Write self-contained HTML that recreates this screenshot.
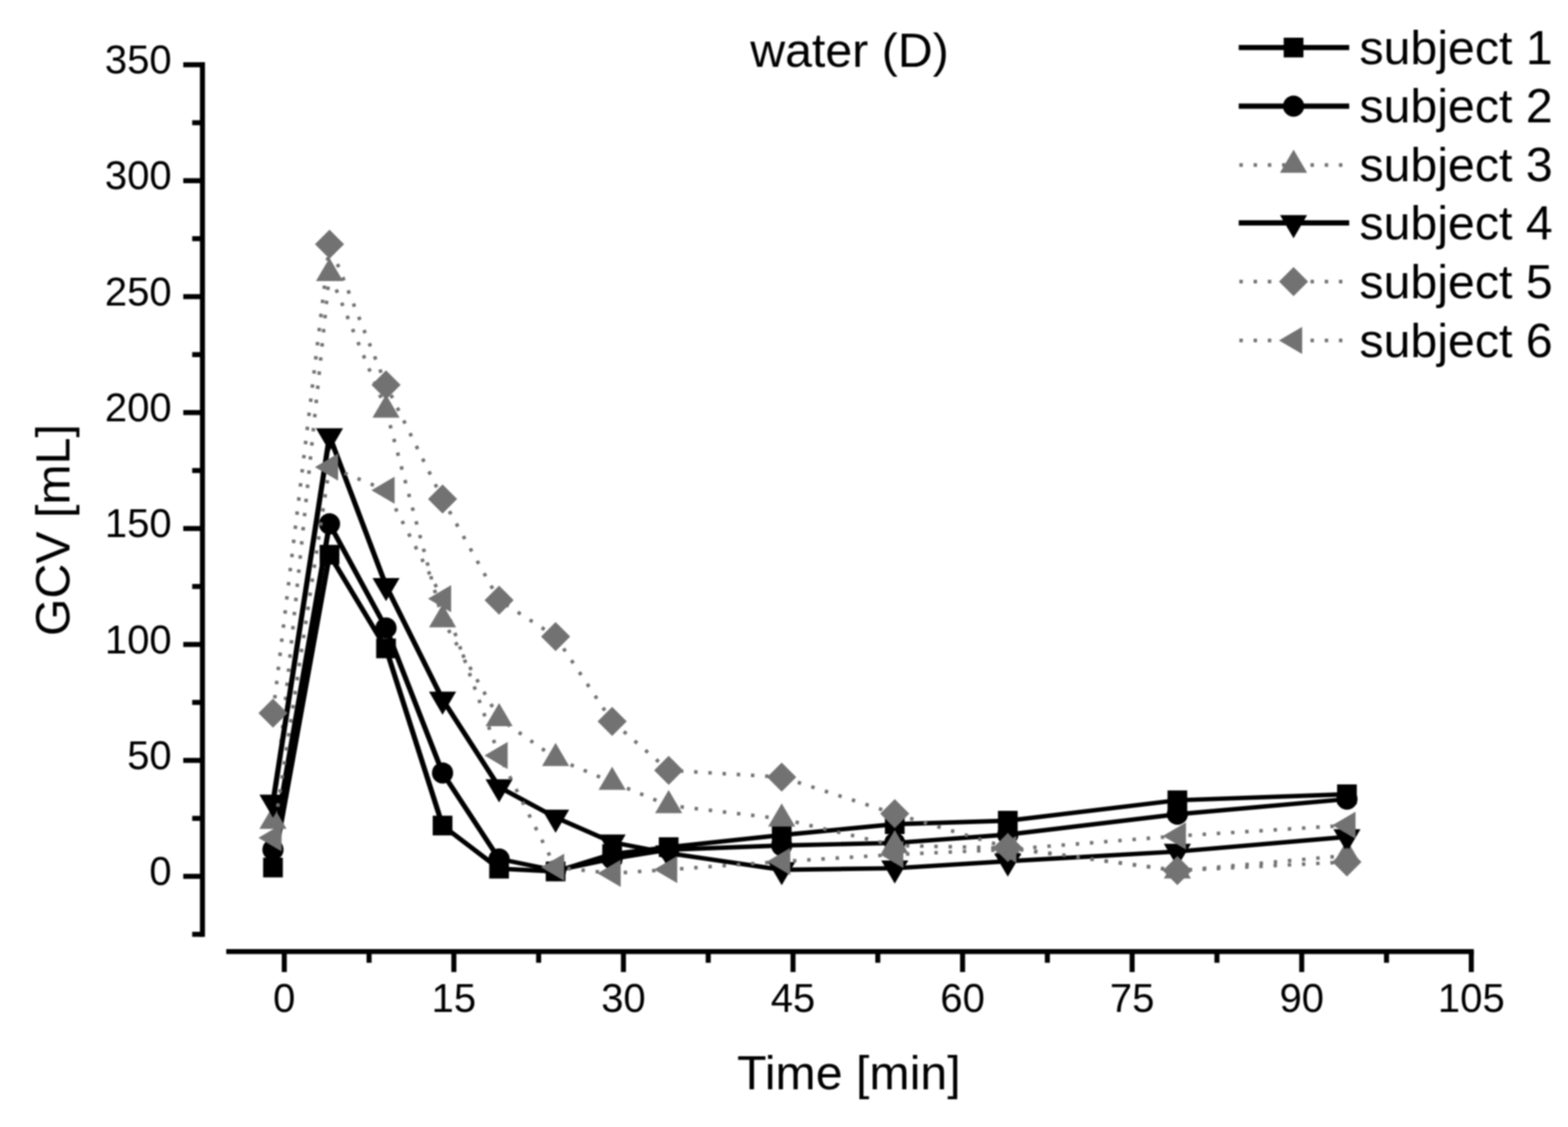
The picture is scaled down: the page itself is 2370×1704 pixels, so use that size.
<!DOCTYPE html>
<html lang="en"><head><meta charset="utf-8"><title>water (D) - GCV over time</title>
<style>html,body{margin:0;padding:0;background:#fff;}body{width:2370px;height:1704px;overflow:hidden;}svg{display:block;filter:blur(0.85px);}text{font-family:'Liberation Sans', sans-serif;fill:#000;}.tk{font-size:60.5px;}.bg{font-size:73px;}</style></head><body>
<svg width="2370" height="1704" viewBox="0 0 2370 1704" role="img" aria-label="GCV over time after water intake, six subjects">
<rect width="2370" height="1704" fill="#fff"/>
<g stroke="#000" stroke-width="7.6" fill="none" stroke-linecap="butt">
<line x1="306" y1="94.1" x2="306" y2="1416.45"/>
<line x1="290.5" y1="1412.65" x2="306" y2="1412.65"/>
<line x1="277" y1="1325" x2="306" y2="1325"/>
<line x1="290.5" y1="1237.35" x2="306" y2="1237.35"/>
<line x1="277" y1="1149.7" x2="306" y2="1149.7"/>
<line x1="290.5" y1="1062.05" x2="306" y2="1062.05"/>
<line x1="277" y1="974.4" x2="306" y2="974.4"/>
<line x1="290.5" y1="886.75" x2="306" y2="886.75"/>
<line x1="277" y1="799.1" x2="306" y2="799.1"/>
<line x1="290.5" y1="711.45" x2="306" y2="711.45"/>
<line x1="277" y1="623.8" x2="306" y2="623.8"/>
<line x1="290.5" y1="536.15" x2="306" y2="536.15"/>
<line x1="277" y1="448.5" x2="306" y2="448.5"/>
<line x1="290.5" y1="360.85" x2="306" y2="360.85"/>
<line x1="277" y1="273.2" x2="306" y2="273.2"/>
<line x1="290.5" y1="185.55" x2="306" y2="185.55"/>
<line x1="277" y1="97.9" x2="306" y2="97.9"/>
<line x1="341.96" y1="1438.7" x2="2227.64" y2="1438.7"/>
<line x1="429.7" y1="1438.7" x2="429.7" y2="1469.7"/>
<line x1="557.85" y1="1438.7" x2="557.85" y2="1455.7"/>
<line x1="686" y1="1438.7" x2="686" y2="1469.7"/>
<line x1="814.16" y1="1438.7" x2="814.16" y2="1455.7"/>
<line x1="942.31" y1="1438.7" x2="942.31" y2="1469.7"/>
<line x1="1070.46" y1="1438.7" x2="1070.46" y2="1455.7"/>
<line x1="1198.62" y1="1438.7" x2="1198.62" y2="1469.7"/>
<line x1="1326.77" y1="1438.7" x2="1326.77" y2="1455.7"/>
<line x1="1454.92" y1="1438.7" x2="1454.92" y2="1469.7"/>
<line x1="1583.07" y1="1438.7" x2="1583.07" y2="1455.7"/>
<line x1="1711.23" y1="1438.7" x2="1711.23" y2="1469.7"/>
<line x1="1839.38" y1="1438.7" x2="1839.38" y2="1455.7"/>
<line x1="1967.53" y1="1438.7" x2="1967.53" y2="1469.7"/>
<line x1="2095.68" y1="1438.7" x2="2095.68" y2="1455.7"/>
<line x1="2223.84" y1="1438.7" x2="2223.84" y2="1469.7"/>
</g>
<g class="tk" text-anchor="end">
<text x="259.5" y="1338.2">0</text>
<text x="259.5" y="1162.9">50</text>
<text x="259.5" y="987.6">100</text>
<text x="259.5" y="812.3">150</text>
<text x="259.5" y="637">200</text>
<text x="259.5" y="461.7">250</text>
<text x="259.5" y="286.4">300</text>
<text x="259.5" y="111.1">350</text>
</g>
<g class="tk" text-anchor="middle">
<text x="429.7" y="1529.5">0</text>
<text x="686" y="1529.5">15</text>
<text x="942.31" y="1529.5">30</text>
<text x="1198.62" y="1529.5">45</text>
<text x="1454.92" y="1529.5">60</text>
<text x="1711.23" y="1529.5">75</text>
<text x="1967.53" y="1529.5">90</text>
<text x="2223.84" y="1529.5">105</text>
</g>
<g class="bg">
<text x="1284" y="101.3" text-anchor="middle">water (D)</text>
<text x="1283" y="1647" text-anchor="middle">Time [min]</text>
<text transform="translate(104.5 801.5) rotate(-90)" text-anchor="middle">GCV [mL]</text>
</g>
<g>
<line x1="412.61" y1="1311.68" x2="498.05" y2="838.72" stroke="#000" stroke-width="7.86"/>
<line x1="498.05" y1="838.72" x2="583.48" y2="980.36" stroke="#000" stroke-width="7.58"/>
<line x1="583.48" y1="980.36" x2="668.92" y2="1248.22" stroke="#000" stroke-width="7.79"/>
<line x1="668.92" y1="1248.22" x2="754.35" y2="1313.43" stroke="#000" stroke-width="7.14"/>
<line x1="754.35" y1="1313.43" x2="839.79" y2="1317.64" stroke="#000" stroke-width="6.7"/>
<line x1="839.79" y1="1317.64" x2="925.22" y2="1291.34" stroke="#000" stroke-width="6.8"/>
<line x1="925.22" y1="1291.34" x2="1010.66" y2="1280.82" stroke="#000" stroke-width="6.72"/>
<line x1="1010.66" y1="1280.82" x2="1181.53" y2="1262.59" stroke="#000" stroke-width="6.71"/>
<line x1="1181.53" y1="1262.59" x2="1352.4" y2="1246.12" stroke="#000" stroke-width="6.71"/>
<line x1="1352.4" y1="1246.12" x2="1523.27" y2="1240.86" stroke="#000" stroke-width="6.7"/>
<line x1="1523.27" y1="1240.86" x2="1779.57" y2="1210" stroke="#000" stroke-width="6.72"/>
<line x1="1779.57" y1="1210" x2="2035.88" y2="1200.89" stroke="#000" stroke-width="6.7"/>
<rect x="397.71" y="1296.78" width="29.8" height="29.8" fill="#000"/>
<rect x="483.15" y="823.82" width="29.8" height="29.8" fill="#000"/>
<rect x="568.58" y="965.46" width="29.8" height="29.8" fill="#000"/>
<rect x="654.02" y="1233.32" width="29.8" height="29.8" fill="#000"/>
<rect x="739.45" y="1298.53" width="29.8" height="29.8" fill="#000"/>
<rect x="824.89" y="1302.74" width="29.8" height="29.8" fill="#000"/>
<rect x="910.32" y="1276.44" width="29.8" height="29.8" fill="#000"/>
<rect x="995.76" y="1265.92" width="29.8" height="29.8" fill="#000"/>
<rect x="1166.63" y="1247.69" width="29.8" height="29.8" fill="#000"/>
<rect x="1337.5" y="1231.21" width="29.8" height="29.8" fill="#000"/>
<rect x="1508.37" y="1225.96" width="29.8" height="29.8" fill="#000"/>
<rect x="1764.67" y="1195.1" width="29.8" height="29.8" fill="#000"/>
<rect x="2020.98" y="1185.99" width="29.8" height="29.8" fill="#000"/>
</g>
<g>
<line x1="412.61" y1="1284.68" x2="498.05" y2="792.09" stroke="#000" stroke-width="7.86"/>
<line x1="498.05" y1="792.09" x2="583.48" y2="949.51" stroke="#000" stroke-width="7.63"/>
<line x1="583.48" y1="949.51" x2="668.92" y2="1168.63" stroke="#000" stroke-width="7.74"/>
<line x1="668.92" y1="1168.63" x2="754.35" y2="1298.7" stroke="#000" stroke-width="7.54"/>
<line x1="754.35" y1="1298.7" x2="839.79" y2="1316.23" stroke="#000" stroke-width="6.75"/>
<line x1="839.79" y1="1316.23" x2="925.22" y2="1298.35" stroke="#000" stroke-width="6.75"/>
<line x1="925.22" y1="1298.35" x2="1010.66" y2="1284.68" stroke="#000" stroke-width="6.73"/>
<line x1="1010.66" y1="1284.68" x2="1181.53" y2="1278.37" stroke="#000" stroke-width="6.7"/>
<line x1="1181.53" y1="1278.37" x2="1352.4" y2="1274.51" stroke="#000" stroke-width="6.7"/>
<line x1="1352.4" y1="1274.51" x2="1523.27" y2="1261.89" stroke="#000" stroke-width="6.71"/>
<line x1="1523.27" y1="1261.89" x2="1779.57" y2="1231.04" stroke="#000" stroke-width="6.72"/>
<line x1="1779.57" y1="1231.04" x2="2035.88" y2="1208.25" stroke="#000" stroke-width="6.71"/>
<circle cx="412.61" cy="1284.68" r="16" fill="#000"/>
<circle cx="498.05" cy="792.09" r="16" fill="#000"/>
<circle cx="583.48" cy="949.51" r="16" fill="#000"/>
<circle cx="668.92" cy="1168.63" r="16" fill="#000"/>
<circle cx="754.35" cy="1298.7" r="16" fill="#000"/>
<circle cx="839.79" cy="1316.23" r="16" fill="#000"/>
<circle cx="925.22" cy="1298.35" r="16" fill="#000"/>
<circle cx="1010.66" cy="1284.68" r="16" fill="#000"/>
<circle cx="1181.53" cy="1278.37" r="16" fill="#000"/>
<circle cx="1352.4" cy="1274.51" r="16" fill="#000"/>
<circle cx="1523.27" cy="1261.89" r="16" fill="#000"/>
<circle cx="1779.57" cy="1231.04" r="16" fill="#000"/>
<circle cx="2035.88" cy="1208.25" r="16" fill="#000"/>
</g>
<g>
<g stroke="#727272" stroke-width="5.4" stroke-dasharray="5.2 16.3" stroke-dashoffset="1.6">
<line x1="498.05" y1="413.44" x2="412.61" y2="1241.56"/>
<line x1="583.48" y1="619.94" x2="498.05" y2="413.44"/>
<line x1="668.92" y1="936.89" x2="583.48" y2="619.94"/>
<line x1="754.35" y1="1086.24" x2="668.92" y2="936.89"/>
<line x1="839.79" y1="1146.54" x2="754.35" y2="1086.24"/>
<line x1="925.22" y1="1182.66" x2="839.79" y2="1146.54"/>
<line x1="1010.66" y1="1217.72" x2="925.22" y2="1182.66"/>
<line x1="1181.53" y1="1238.05" x2="1010.66" y2="1217.72"/>
<line x1="1352.4" y1="1278.37" x2="1181.53" y2="1238.05"/>
<line x1="1523.27" y1="1282.23" x2="1352.4" y2="1278.37"/>
<line x1="1779.57" y1="1316.59" x2="1523.27" y2="1282.23"/>
<line x1="2035.88" y1="1293.45" x2="1779.57" y2="1316.59"/>
</g>
<polygon points="412.61,1218.22 433.11,1253.22 392.11,1253.22" fill="#727272"/>
<polygon points="498.05,390.11 518.55,425.11 477.55,425.11" fill="#727272"/>
<polygon points="583.48,596.61 603.98,631.61 562.98,631.61" fill="#727272"/>
<polygon points="668.92,913.55 689.42,948.55 648.42,948.55" fill="#727272"/>
<polygon points="754.35,1062.91 774.85,1097.91 733.85,1097.91" fill="#727272"/>
<polygon points="839.79,1123.21 860.29,1158.21 819.29,1158.21" fill="#727272"/>
<polygon points="925.22,1159.32 945.72,1194.32 904.72,1194.32" fill="#727272"/>
<polygon points="1010.66,1194.38 1031.16,1229.38 990.16,1229.38" fill="#727272"/>
<polygon points="1181.53,1214.72 1202.03,1249.72 1161.03,1249.72" fill="#727272"/>
<polygon points="1352.4,1255.04 1372.9,1290.04 1331.9,1290.04" fill="#727272"/>
<polygon points="1523.27,1258.89 1543.77,1293.89 1502.77,1293.89" fill="#727272"/>
<polygon points="1779.57,1293.25 1800.07,1328.25 1759.07,1328.25" fill="#727272"/>
<polygon points="2035.88,1270.11 2056.38,1305.11 2015.38,1305.11" fill="#727272"/>
</g>
<g>
<line x1="412.61" y1="1213.16" x2="498.05" y2="659.21" stroke="#000" stroke-width="7.87"/>
<line x1="498.05" y1="659.21" x2="583.48" y2="885.7" stroke="#000" stroke-width="7.75"/>
<line x1="583.48" y1="885.7" x2="668.92" y2="1057.49" stroke="#000" stroke-width="7.66"/>
<line x1="668.92" y1="1057.49" x2="754.35" y2="1190.02" stroke="#000" stroke-width="7.55"/>
<line x1="754.35" y1="1190.02" x2="839.79" y2="1235.95" stroke="#000" stroke-width="6.97"/>
<line x1="839.79" y1="1235.95" x2="925.22" y2="1273.46" stroke="#000" stroke-width="6.89"/>
<line x1="925.22" y1="1273.46" x2="1010.66" y2="1289.94" stroke="#000" stroke-width="6.74"/>
<line x1="1010.66" y1="1289.94" x2="1181.53" y2="1315.18" stroke="#000" stroke-width="6.73"/>
<line x1="1181.53" y1="1315.18" x2="1352.4" y2="1312.73" stroke="#000" stroke-width="6.7"/>
<line x1="1352.4" y1="1312.73" x2="1523.27" y2="1302.21" stroke="#000" stroke-width="6.7"/>
<line x1="1523.27" y1="1302.21" x2="1779.57" y2="1287.49" stroke="#000" stroke-width="6.7"/>
<line x1="1779.57" y1="1287.49" x2="2035.88" y2="1265.4" stroke="#000" stroke-width="6.71"/>
<polygon points="412.61,1236.49 433.11,1201.49 392.11,1201.49" fill="#000"/>
<polygon points="498.05,682.54 518.55,647.54 477.55,647.54" fill="#000"/>
<polygon points="583.48,909.03 603.98,874.03 562.98,874.03" fill="#000"/>
<polygon points="668.92,1080.83 689.42,1045.83 648.42,1045.83" fill="#000"/>
<polygon points="754.35,1213.35 774.85,1178.35 733.85,1178.35" fill="#000"/>
<polygon points="839.79,1259.28 860.29,1224.28 819.29,1224.28" fill="#000"/>
<polygon points="925.22,1296.8 945.72,1261.8 904.72,1261.8" fill="#000"/>
<polygon points="1010.66,1313.27 1031.16,1278.27 990.16,1278.27" fill="#000"/>
<polygon points="1181.53,1338.52 1202.03,1303.52 1161.03,1303.52" fill="#000"/>
<polygon points="1352.4,1336.06 1372.9,1301.06 1331.9,1301.06" fill="#000"/>
<polygon points="1523.27,1325.54 1543.77,1290.54 1502.77,1290.54" fill="#000"/>
<polygon points="1779.57,1310.82 1800.07,1275.82 1759.07,1275.82" fill="#000"/>
<polygon points="2035.88,1288.73 2056.38,1253.73 2015.38,1253.73" fill="#000"/>
</g>
<g>
<g stroke="#727272" stroke-width="5.4" stroke-dasharray="5.2 16.3" stroke-dashoffset="1.6">
<line x1="498.05" y1="369.26" x2="412.61" y2="1078.18"/>
<line x1="583.48" y1="582.08" x2="498.05" y2="369.26"/>
<line x1="668.92" y1="754.57" x2="583.48" y2="582.08"/>
<line x1="754.35" y1="907.44" x2="668.92" y2="754.57"/>
<line x1="839.79" y1="962.48" x2="754.35" y2="907.44"/>
<line x1="925.22" y1="1090.8" x2="839.79" y2="962.48"/>
<line x1="1010.66" y1="1164.78" x2="925.22" y2="1090.8"/>
<line x1="1181.53" y1="1174.94" x2="1010.66" y2="1164.78"/>
<line x1="1352.4" y1="1230.34" x2="1181.53" y2="1174.94"/>
<line x1="1523.27" y1="1281.53" x2="1352.4" y2="1230.34"/>
<line x1="1779.57" y1="1316.23" x2="1523.27" y2="1281.53"/>
<line x1="2035.88" y1="1303.26" x2="1779.57" y2="1316.23"/>
</g>
<polygon points="412.61,1056.18 434.61,1078.18 412.61,1100.18 390.61,1078.18" fill="#727272"/>
<polygon points="498.05,347.26 520.05,369.26 498.05,391.26 476.05,369.26" fill="#727272"/>
<polygon points="583.48,560.08 605.48,582.08 583.48,604.08 561.48,582.08" fill="#727272"/>
<polygon points="668.92,732.57 690.92,754.57 668.92,776.57 646.92,754.57" fill="#727272"/>
<polygon points="754.35,885.44 776.35,907.44 754.35,929.44 732.35,907.44" fill="#727272"/>
<polygon points="839.79,940.48 861.79,962.48 839.79,984.48 817.79,962.48" fill="#727272"/>
<polygon points="925.22,1068.8 947.22,1090.8 925.22,1112.8 903.22,1090.8" fill="#727272"/>
<polygon points="1010.66,1142.78 1032.66,1164.78 1010.66,1186.78 988.66,1164.78" fill="#727272"/>
<polygon points="1181.53,1152.94 1203.53,1174.94 1181.53,1196.94 1159.53,1174.94" fill="#727272"/>
<polygon points="1352.4,1208.34 1374.4,1230.34 1352.4,1252.34 1330.4,1230.34" fill="#727272"/>
<polygon points="1523.27,1259.53 1545.27,1281.53 1523.27,1303.53 1501.27,1281.53" fill="#727272"/>
<polygon points="1779.57,1294.23 1801.57,1316.23 1779.57,1338.23 1757.57,1316.23" fill="#727272"/>
<polygon points="2035.88,1281.26 2057.88,1303.26 2035.88,1325.26 2013.88,1303.26" fill="#727272"/>
</g>
<g>
<g stroke="#727272" stroke-width="5.4" stroke-dasharray="5.2 16.3" stroke-dashoffset="1.6">
<line x1="498.05" y1="706.19" x2="412.61" y2="1266.8"/>
<line x1="583.48" y1="741.25" x2="498.05" y2="706.19"/>
<line x1="668.92" y1="905.33" x2="583.48" y2="741.25"/>
<line x1="754.35" y1="1142.34" x2="668.92" y2="905.33"/>
<line x1="839.79" y1="1311.33" x2="754.35" y2="1142.34"/>
<line x1="925.22" y1="1320.44" x2="839.79" y2="1311.33"/>
<line x1="1010.66" y1="1314.83" x2="925.22" y2="1320.44"/>
<line x1="1181.53" y1="1302.56" x2="1010.66" y2="1314.83"/>
<line x1="1352.4" y1="1292.04" x2="1181.53" y2="1302.56"/>
<line x1="1523.27" y1="1284.33" x2="1352.4" y2="1292.04"/>
<line x1="1779.57" y1="1264" x2="1523.27" y2="1284.33"/>
<line x1="2035.88" y1="1247.87" x2="1779.57" y2="1264"/>
</g>
<polygon points="390.58,1266.8 425.58,1246.3 425.58,1287.3" fill="#727272"/>
<polygon points="476.01,706.19 511.01,685.69 511.01,726.69" fill="#727272"/>
<polygon points="561.45,741.25 596.45,720.75 596.45,761.75" fill="#727272"/>
<polygon points="646.88,905.33 681.88,884.83 681.88,925.83" fill="#727272"/>
<polygon points="732.32,1142.34 767.32,1121.84 767.32,1162.84" fill="#727272"/>
<polygon points="817.75,1311.33 852.75,1290.83 852.75,1331.83" fill="#727272"/>
<polygon points="903.19,1320.44 938.19,1299.94 938.19,1340.94" fill="#727272"/>
<polygon points="988.62,1314.83 1023.62,1294.33 1023.62,1335.33" fill="#727272"/>
<polygon points="1159.49,1302.56 1194.49,1282.06 1194.49,1323.06" fill="#727272"/>
<polygon points="1330.36,1292.04 1365.36,1271.54 1365.36,1312.54" fill="#727272"/>
<polygon points="1501.23,1284.33 1536.23,1263.83 1536.23,1304.83" fill="#727272"/>
<polygon points="1757.54,1264 1792.54,1243.5 1792.54,1284.5" fill="#727272"/>
<polygon points="2013.84,1247.87 2048.84,1227.37 2048.84,1268.37" fill="#727272"/>
</g>
<g class="bg">
<line x1="1872.3" y1="71.9" x2="2039.3" y2="71.9" stroke="#000" stroke-width="7.8"/>
<rect x="1940.3" y="57" width="29.8" height="29.8" fill="#000"/>
<text x="2054.7" y="96.7">subject 1</text>
<line x1="1872.3" y1="160.5" x2="2039.3" y2="160.5" stroke="#000" stroke-width="7.8"/>
<circle cx="1955.2" cy="160.5" r="16" fill="#000"/>
<text x="2054.7" y="185.3">subject 2</text>
<line x1="1873.3" y1="249.5" x2="2039.3" y2="249.5" stroke="#727272" stroke-width="5.4" stroke-dasharray="5.2 16.3"/>
<polygon points="1955.2,226.17 1975.7,261.17 1934.7,261.17" fill="#727272"/>
<text x="2054.7" y="274.3">subject 3</text>
<line x1="1872.3" y1="337" x2="2039.3" y2="337" stroke="#000" stroke-width="7.8"/>
<polygon points="1955.2,360.33 1975.7,325.33 1934.7,325.33" fill="#000"/>
<text x="2054.7" y="361.8">subject 4</text>
<line x1="1873.3" y1="425.8" x2="2039.3" y2="425.8" stroke="#727272" stroke-width="5.4" stroke-dasharray="5.2 16.3"/>
<polygon points="1955.2,403.8 1977.2,425.8 1955.2,447.8 1933.2,425.8" fill="#727272"/>
<text x="2054.7" y="450.6">subject 5</text>
<line x1="1873.3" y1="514.7" x2="2039.3" y2="514.7" stroke="#727272" stroke-width="5.4" stroke-dasharray="5.2 16.3"/>
<polygon points="1933.17,514.7 1968.17,494.2 1968.17,535.2" fill="#727272"/>
<text x="2054.7" y="539.5">subject 6</text>
</g>
</svg></body></html>
